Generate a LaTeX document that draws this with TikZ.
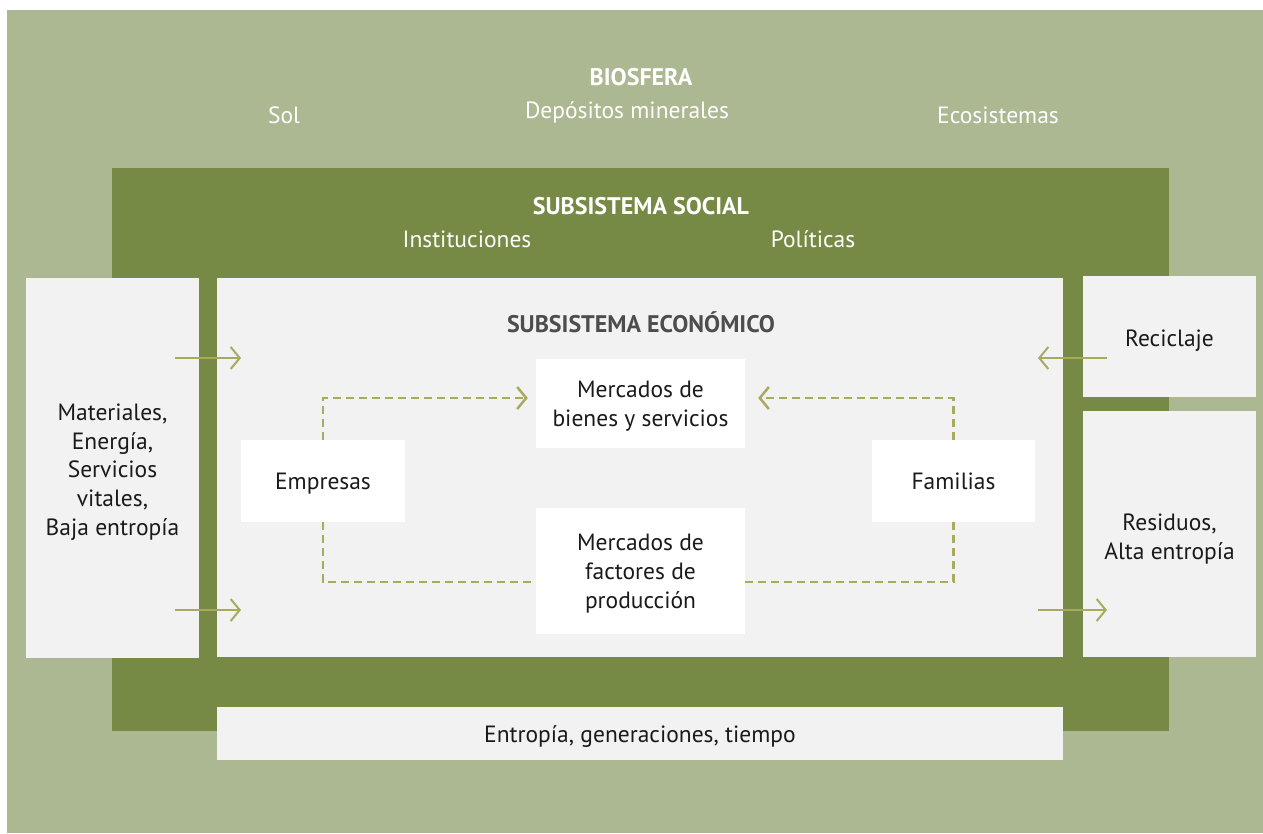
\documentclass[tikz,border=0pt]{standalone}
\usepackage{fontspec}
\setmainfont{PT Sans}
\usetikzlibrary{arrows.meta,calc}

\definecolor{biogreen}{HTML}{ACB891}
\definecolor{socgreen}{HTML}{778A45}
\definecolor{boxgray}{HTML}{F2F2F2}
\definecolor{flowolive}{HTML}{A8AA5E}
\definecolor{titlegray}{HTML}{4D4D4D}
\definecolor{bodytext}{HTML}{1A1A1A}

\begin{document}
\begin{tikzpicture}[%
        x = 1pt,
        y = -1pt,
        every node/.style = {%
            font = \fontsize{23.5}{28.8}\selectfont,
            text = bodytext,
            inner sep = 0pt
        },
        panel/.style = {%
            fill = boxgray,
            align = center
        },
        whitebox/.style = {%
            fill = white,
            align = center,
            text depth = 0pt
        },
        title/.style = {%
            font = \fontsize{24}{28}\selectfont\bfseries
        },
        flujo/.style = {%
            draw = flowolive,
            line width = 2pt,
            -{Straight Barb[length = 9pt, width = 22pt]}
        },
        flujodash/.style = {%
            flujo,
            line width = 2.5pt,
            dash pattern = on 8pt off 5pt
        }
    ]
        \useasboundingbox (0, 0) rectangle (1263, 833);
        % layers
        \node[fill = biogreen, minimum width = 1256, minimum height = 823] (bio) at (635, 421.5) {};
        \node[fill = socgreen, minimum width = 1057, minimum height = 563] (social) at (640.5, 449.5) {};
        \node[panel, minimum width = 846, minimum height = 379] (eco) at (640, 467.5) {};
        \node[panel, minimum width = 173, minimum height = 380] (recursos) at (112.5, 468) {};
        \node[panel, minimum width = 173, minimum height = 121] (reciclaje) at (1169.5, 336.5) {};
        \node[panel, minimum width = 173, minimum height = 246] (residuos) at (1169.5, 534) {};
        \node[panel, minimum width = 846, minimum height = 53] (tiempo) at (640, 733.5) {};
        % titles
        \node[title, text = white] (biotitle) at (641, 77) {BIOSFERA};
        \node[text = white] (sol) at (284, 115) {Sol};
        \node[text = white] (depositos) at (627, 112) {Depósitos minerales};
        \node[text = white] (ecosist) at (998, 115) {Ecosistemas};
        \node[title, text = white] (soctitle) at (641, 206) {SUBSISTEMA SOCIAL};
        \node[text = white] (instit) at (467, 239) {Instituciones};
        \node[text = white] (politicas) at (813, 239) {Políticas};
        \node[title, text = titlegray] (ecotitle) at (641, 322) {SUBSISTEMA ECONÓMICO};
        % side texts
        \node[align = center] (recursostxt) at (112.5, 472) {Materiales,\\Energía,\\Servicios\\vitales,\\Baja entropía};
        \node (reciclajetxt) at (1169.5, 341) {Reciclaje};
        \node[align = center] (residuostxt) at (1169.5, 539) {Residuos,\\Alta entropía};
        \node (tiempotxt) at (640, 737) {Entropía, generaciones, tiempo};
        % agents and markets
        \node[whitebox, minimum width = 164, minimum height = 82] (empresas) at (323, 481) {Empresas};
        \node[whitebox, minimum width = 163, minimum height = 82] (familias) at (953.5, 481) {Familias};
        \node[whitebox, minimum width = 209, minimum height = 89] (bienes) at (640.5, 403.5) {Mercados de\\bienes y servicios};
        \node[whitebox, minimum width = 209, minimum height = 126] (factores) at (640.5, 571) {Mercados de\\factores de\\producción};
        % flows in and out
        \coordinate (entraA) at (175, 358);
        \coordinate (entraAfin) at (241, 358);
        \coordinate (entraB) at (175, 610);
        \coordinate (entraBfin) at (241, 610);
        \coordinate (recicla) at (1107, 358);
        \coordinate (reciclafin) at (1038, 358);
        \coordinate (residuo) at (1038, 610);
        \coordinate (residuofin) at (1107, 610);
        \draw[flujo] (entraA) -- (entraAfin);
        \draw[flujo] (entraB) -- (entraBfin);
        \draw[flujo] (recicla) -- (reciclafin);
        \draw[flujo] (residuo) -- (residuofin);
        % circular flow
        \draw[flujodash, shorten > = 8pt] (empresas.north) |- ($(bienes.west) + (0, -5.5)$);
        \draw[flujodash, shorten > = 13pt] (familias.north) |- ($(bienes.east) + (0, -5.5)$);
        \draw[flujodash, -] (empresas.south) |- ($(factores.west) + (0, 11)$);
        \draw[flujodash, -] (familias.south) |- ($(factores.east) + (0, 11)$);
    \end{tikzpicture}
\end{document}
